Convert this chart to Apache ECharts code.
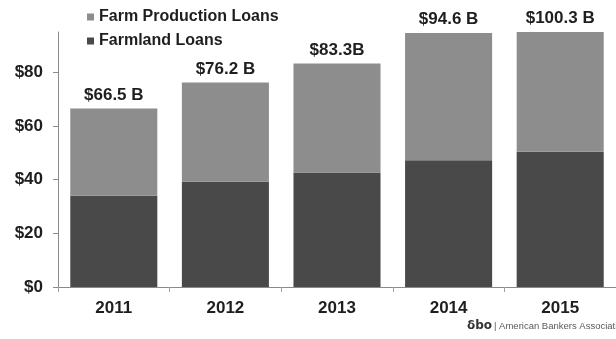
<!DOCTYPE html>
<html>
<head>
<meta charset="utf-8">
<script src="https://cdn.jsdelivr.net/npm/echarts@6/dist/echarts.min.js"></script>
<style>
  html, body { margin: 0; padding: 0; background: #fff; }
  #chart { width: 616px; height: 339px; }
</style>
</head>
<body>
<div id="chart"></div>
<script>
// Agricultural loans held by banks, $ billions
const years = ['2011', '2012', '2013', '2014', '2015'];
const totalLoans = [66.5, 76.2, 83.3, 94.6, 100.3];
const farmlandLoans = [34.0, 39.2, 42.7, 47.2, 50.4];
const totalUnits = [' B', ' B', 'B', ' B', ' B'];
const yTicks = [0, 20, 40, 60, 80];

// Production loans make up the rest of each year's total
const productionLoans = totalLoans.map((t, i) => +(t - farmlandLoans[i]).toFixed(1));

const FONT = '"Liberation Sans", Arial, sans-serif';
const INK = '#1e1e1e';

const chart = echarts.init(document.getElementById('chart'), null, { renderer: 'canvas' });

chart.setOption({
  animation: false,
  backgroundColor: '#ffffff',
  textStyle: { fontFamily: FONT },
  grid: { left: 58, right: -9, top: 32, bottom: 52, containLabel: false },
  legend: {
    orient: 'vertical',
    left: 82,
    top: 4,
    icon: 'rect',
    itemWidth: 7,
    itemHeight: 7,
    itemGap: 8,
    textStyle: { fontFamily: FONT, fontWeight: 'bold', fontSize: 16, color: INK, lineHeight: 16 },
    data: ['Farm Production Loans', 'Farmland Loans']
  },
  xAxis: {
    type: 'category',
    data: years,
    axisLine: { lineStyle: { color: '#8a8a8a', width: 1 } },
    axisTick: { show: true, alignWithLabel: false, length: 5, lineStyle: { color: '#a0a0a0' } },
    axisLabel: { fontFamily: FONT, fontWeight: 'bold', fontSize: 17, color: INK, margin: 13 }
  },
  yAxis: {
    type: 'value',
    min: 0,
    max: 95,
    interval: 20,
    axisLine: { show: true, lineStyle: { color: '#8a8a8a', width: 1 } },
    axisTick: { show: true, length: 5, customValues: yTicks, lineStyle: { color: '#8a8a8a' } },
    splitLine: { show: false },
    axisLabel: {
      customValues: yTicks,
      fontFamily: FONT, fontWeight: 'bold', fontSize: 17, color: INK, margin: 15,
      formatter: v => '$' + v
    }
  },
  series: [
    {
      name: 'Farmland Loans',
      type: 'bar',
      stack: 'loans',
      barWidth: '78%',
      clip: true,
      itemStyle: { color: '#494949' },
      data: farmlandLoans
    },
    {
      name: 'Farm Production Loans',
      type: 'bar',
      stack: 'loans',
      barWidth: '78%',
      clip: true,
      itemStyle: { color: '#8d8d8d' },
      label: {
        show: true,
        position: 'top',
        distance: 5,
        fontFamily: FONT,
        fontWeight: 'bold',
        fontSize: 17,
        color: INK,
        formatter: p => '$' + totalLoans[p.dataIndex].toFixed(1) + totalUnits[p.dataIndex]
      },
      data: productionLoans
    }
  ],
  graphic: [
    {
      type: 'text',
      left: 467,
      top: 320,
      style: { text: 'δbo', font: 'bold 12px "DejaVu Sans", sans-serif', fill: '#333333' }
    },
    {
      type: 'text',
      left: 494,
      top: 321,
      style: { text: '| American Bankers Association', font: '9.5px "Liberation Sans", Arial, sans-serif', fill: '#5a5a5a' }
    }
  ]
});
</script>
</body>
</html>
